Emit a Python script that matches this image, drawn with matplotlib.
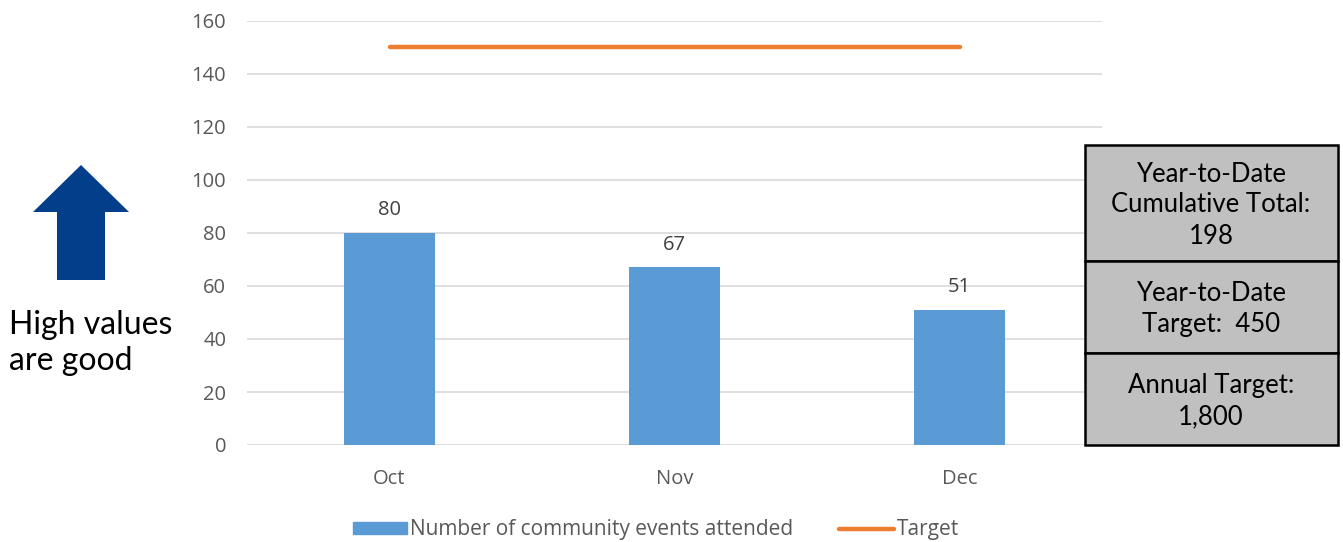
import matplotlib
matplotlib.use('Agg')
from matplotlib import pyplot as plt
from matplotlib.patches import Rectangle, Polygon
from matplotlib.lines import Line2D

# Data
months = ['Oct', 'Nov', 'Dec']
events = [80, 67, 51]
target = [150, 150, 150]
yticks = [0, 20, 40, 60, 80, 100, 120, 140, 160]
box_texts = ['Year-to-Date\nCumulative Total:\n198',
             'Year-to-Date\nTarget:  450',
             'Annual Target:\n1,800']

W, H = 1343, 542
bar_color = '#5b9bd5'
line_color = '#ed7d31'
grey_text = '#595959'

def fx(x):
    return x / W

def fy(y):
    return 1 - y / H

fig = plt.figure(figsize=(W / 100, H / 100), dpi=100)
ax = fig.add_axes([fx(247), fy(445), fx(1102) - fx(247), fy(21) - fy(445)])

x = list(range(len(months)))
bars = ax.bar(x, events, width=0.316, color=bar_color, zorder=3)
ax.plot(x, target, color=line_color, linewidth=3.2, solid_capstyle='round', zorder=4)
ax.bar_label(bars, labels=[str(v) for v in events], padding=9,
             fontsize=14.5, color='#404040', family='Open Sans')

ax.set_xlim(-0.5, 2.5)
ax.set_ylim(0, 160)
ax.set_yticks(yticks)
ax.set_xticks(x)
ax.set_xticklabels(months)
ax.yaxis.grid(True, color='#d9d9d9', linewidth=1.2, zorder=0)
for s in ax.spines.values():
    s.set_visible(False)
ax.tick_params(axis='both', length=0, labelsize=14.5, labelcolor=grey_text)
ax.tick_params(axis='y', pad=15)
ax.tick_params(axis='x', pad=17.5)
for lbl in ax.get_xticklabels() + ax.get_yticklabels():
    lbl.set_family('Open Sans')

# Legend
handles = [Rectangle((0, 0), 1, 1, color=bar_color),
           Line2D([0], [0], color=line_color, linewidth=3.2, solid_capstyle='round')]
leg = fig.legend(handles, ['Number of community events attended', 'Target'],
                 loc='center', bbox_to_anchor=(fx(656), fy(530)), ncol=2, frameon=False,
                 prop={'family': 'Open Sans', 'size': 15}, handlelength=2.6,
                 handleheight=0.55, handletextpad=0.15, columnspacing=2.2)
for t in leg.get_texts():
    t.set_color(grey_text)

# Info boxes
edges = [145, 261, 353, 445]
for i, txt in enumerate(box_texts):
    y0, y1 = edges[i], edges[i + 1]
    fig.add_artist(Rectangle((fx(1085), fy(y1)), fx(1338) - fx(1085), fy(y0) - fy(y1),
                             transform=fig.transFigure, facecolor='#c0c0c0',
                             edgecolor='black', linewidth=1.8, zorder=5))
    fig.text(fx(1211), fy((y0 + y1) / 2 + 2), txt, ha='center', va='center',
             fontsize=18.5, family='Lato', linespacing=1.3, zorder=6)

# Arrow
arrow_pts = [(81, 165), (129, 212), (105, 212), (105, 280), (57, 280), (57, 212), (33, 212)]
fig.add_artist(Polygon([(fx(a), fy(b)) for a, b in arrow_pts], closed=True,
                       transform=fig.transFigure, facecolor='#023e8a', edgecolor='none'))
fig.text(fx(9), fy(343), 'High values\nare good', ha='left', va='center',
         fontsize=23, family='Lato', linespacing=1.25)

fig.savefig('out.png', dpi=100)
